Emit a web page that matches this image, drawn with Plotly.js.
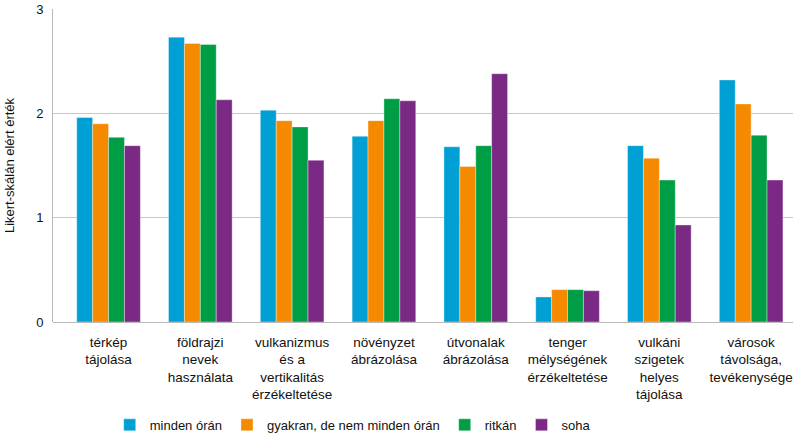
<!DOCTYPE html>
<html>
<head>
<meta charset="utf-8">
<script src="https://cdn.plot.ly/plotly-3.0.1.min.js"></script>
<style>html,body{margin:0;padding:0;background:#fff}#chart{width:809px;height:444px}</style>
</head>
<body>
<div id="chart"></div>
<script>
const categories = [
  "térkép<br>tájolása",
  "földrajzi<br>nevek<br>használata",
  "vulkanizmus<br>és a<br>vertikalitás<br>érzékeltetése",
  "növényzet<br>ábrázolása",
  "útvonalak<br>ábrázolása",
  "tenger<br>mélységének<br>érzékeltetése",
  "vulkáni<br>szigetek<br>helyes<br>tájolása",
  "városok<br>távolsága,<br>tevékenysége"
];
const seriesNames = ["minden órán", "gyakran, de nem minden órán", "ritkán", "soha"];
const mindenOran = [1.96, 2.73, 2.03, 1.78, 1.68, 0.24, 1.69, 2.32];
const gyakran    = [1.90, 2.67, 1.93, 1.93, 1.49, 0.31, 1.57, 2.09];
const ritkan     = [1.77, 2.66, 1.87, 2.14, 1.69, 0.31, 1.36, 1.79];
const soha       = [1.69, 2.13, 1.55, 2.12, 2.38, 0.30, 0.93, 1.36];
const yTicks = [0, 1, 2, 3];

const colors = ["#009fd4", "#f58a00", "#009e44", "#7a2a84"];
const values = [mindenOran, gyakran, ritkan, soha];

const data = values.map((v, i) => ({
  type: "bar",
  name: seriesNames[i],
  x: categories,
  y: v,
  marker: {color: colors[i], line: {color: "rgba(255,255,255,0.6)", width: 0.6}},
  hoverinfo: "y+name"
}));

const layout = {
  width: 809, height: 444,
  margin: {l: 53, r: 16, t: 9, b: 122},
  paper_bgcolor: "#fff", plot_bgcolor: "#fff",
  font: {family: "Liberation Sans, Arial, sans-serif", size: 13, color: "#111"},
  barmode: "group",
  bargap: 0.307,
  bargroupgap: 0,
  xaxis: {
    range: [-0.605, 7.456],
    showgrid: false, zeroline: false, showline: false,
    ticks: "", tickfont: {size: 13.5, color: "#111"},
    ticklabelstandoff: 10,
    automargin: false
  },
  yaxis: {
    range: [0, 3], tickvals: yTicks, ticktext: yTicks.map(String),
    showgrid: true, gridcolor: "#c8c8c8", gridwidth: 1,
    zeroline: true, zerolinecolor: "#b8b8b8", zerolinewidth: 1,
    showline: true, linecolor: "#b8b8b8", linewidth: 1,
    ticks: "", ticklen: 0, tickfont: {size: 13, color: "#111"},
    ticklabelstandoff: 6,
    title: {text: "Likert-skálán elért érték", font: {size: 13, color: "#111"}, standoff: 18},
    automargin: false
  },
  legend: {
    orientation: "h", x: 0.405, xanchor: "center",
    yref: "container", y: 0.043, yanchor: "middle",
    font: {size: 13, color: "#111"}, itemwidth: 30, traceorder: "normal"
  },
  showlegend: true
};

Plotly.newPlot("chart", data, layout, {displayModeBar: false, staticPlot: true});
</script>
</body>
</html>
